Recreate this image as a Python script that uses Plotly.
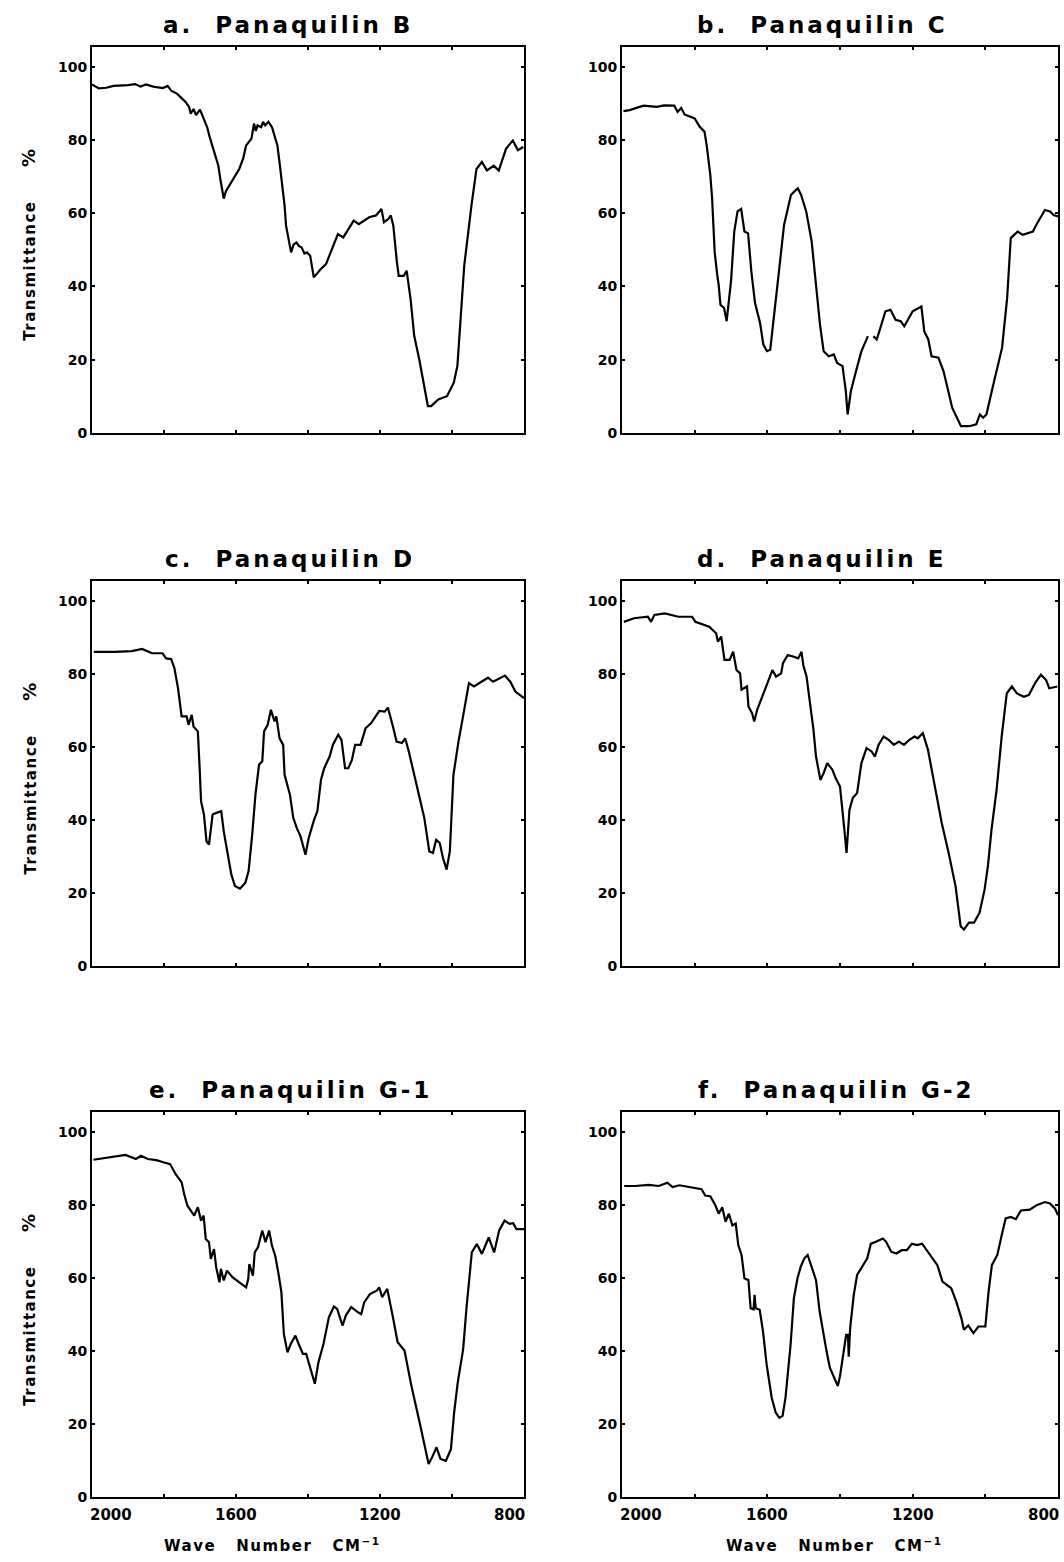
import plotly.graph_objects as go

# ---------------- data (wave number cm^-1, transmittance %) ----------------
wn_a = [2000, 1981, 1960, 1940, 1900, 1880, 1865, 1850, 1830, 1803, 1790, 1780, 1764, 1740, 1730, 1726,
        1718, 1711, 1700, 1687, 1680, 1673, 1665, 1658, 1649, 1643, 1639, 1634, 1628, 1625, 1610, 1591,
        1580, 1572, 1557, 1550, 1545, 1540, 1530, 1525, 1519, 1510, 1500, 1492, 1485, 1478, 1471, 1465,
        1461, 1455, 1450, 1447, 1440, 1432, 1425, 1418, 1410, 1403, 1394, 1390, 1384, 1375, 1365, 1350,
        1331, 1317, 1302, 1285, 1273, 1259, 1245, 1230, 1211, 1196, 1189, 1177, 1170, 1163, 1153, 1148,
        1134, 1126, 1115, 1105, 1091, 1067, 1058, 1038, 1014, 995, 985, 975, 966, 946, 932, 917, 903,
        884, 870, 850, 831, 817, 802]
t_a = [95.2, 94.1, 94.3, 94.8, 95.0, 95.3, 94.6, 95.2, 94.6, 94.2, 94.8, 93.5, 92.7, 90.4, 89.0, 87.2,
       88.5, 86.8, 88.3, 85.0, 83.5, 80.8, 78.0, 75.8, 73.0, 69.0, 66.7, 64.0, 66.0, 66.5, 69.0, 72.1,
       75.0, 78.5, 80.4, 84.5, 82.5, 84.0, 83.5, 85.0, 84.0, 85.0, 83.5, 81.0, 78.5, 73.0, 67.6, 62.0,
       56.6, 53.0, 50.0, 49.3, 51.5, 52.0, 51.0, 50.7, 49.0, 49.3, 48.4, 46.0, 42.5, 43.5, 44.7, 46.1,
       51.1, 54.3, 53.4, 56.0, 58.0, 57.0, 58.0, 58.9, 59.4, 61.2, 57.5, 58.4, 59.4, 56.6, 46.6, 42.9,
       42.9, 44.3, 36.5, 26.5, 20.1, 7.3, 7.3, 9.1, 10.0, 13.7, 18.3, 32.0, 45.7, 62.1, 72.1, 74.0, 71.7,
       73.0, 71.7, 77.6, 79.9, 77.2, 78.1]

wn_b = [1996, 1979, 1941, 1904, 1885, 1856, 1847, 1837, 1828, 1800, 1786, 1773, 1767, 1757, 1752, 1745,
        1738, 1734, 1729, 1719, 1712, 1700, 1691, 1682, 1672, 1663, 1653, 1644, 1634, 1620, 1611, 1601,
        1592, 1582, 1568, 1554, 1545, 1535, 1526, 1516, 1507, 1493, 1478, 1464, 1455, 1445, 1431, 1417,
        1408, 1393, 1384, 1379, 1370, 1356, 1341, 1323, None, 1308, 1299, 1289, 1275, 1261, 1247, 1233,
        1223, 1200, 1176, 1168, 1157, 1148, 1129, 1115, 1091, 1067, 1044, 1025, 1015, 1006, 997, 978,
        954, 940, 930, 911, 897, 869, 860, 836, 822, 812, 800]
t_b = [87.9, 88.2, 89.4, 89.1, 89.5, 89.4, 87.7, 88.8, 87.0, 85.9, 83.6, 82.3, 78.6, 70.5, 64.1, 49.5,
       43.2, 40.5, 35.0, 34.1, 30.5, 41.4, 55.0, 60.5, 61.2, 55.0, 54.5, 44.1, 35.5, 30.0, 24.1, 22.3,
       22.7, 32.3, 44.1, 56.8, 60.5, 65.0, 65.9, 66.8, 65.0, 60.5, 52.3, 38.6, 29.5, 22.3, 20.9, 21.4,
       19.1, 18.2, 11.4, 5.0, 11.4, 16.8, 22.3, 26.4, None, 26.4, 25.5, 28.6, 33.2, 33.6, 30.9, 30.5,
       29.1, 33.2, 34.5, 27.7, 25.5, 20.9, 20.5, 16.8, 6.8, 1.8, 1.8, 2.3, 5.0, 4.1, 5.0, 13.2,
       23.2, 36.8, 53.2, 55.0, 54.1, 55.0, 56.8, 60.9, 60.5, 59.5, 59.1]

wn_c = [1995, 1966, 1937, 1890, 1861, 1833, 1804, 1794, 1780, 1771, 1761, 1751, 1737, 1732, 1723, 1718,
        1706, 1701, 1697, 1689, 1682, 1675, 1665, 1656, 1641, 1634, 1622, 1613, 1603, 1589, 1574, 1565,
        1555, 1546, 1536, 1527, 1522, 1512, 1503, 1493, 1488, 1479, 1469, 1465, 1450, 1441, 1431, 1421,
        1407, 1398, 1383, 1374, 1364, 1355, 1340, 1331, 1316, 1307, 1297, 1288, 1278, 1269, 1254, 1240,
        1225, 1202, 1187, 1178, 1163, 1154, 1139, 1130, 1120, 1106, 1092, 1077, 1063, 1053, 1044, 1034,
        1025, 1015, 1006, 996, 982, 967, 953, 939, 924, 900, 886, 853, 838, 824, 800]
t_c = [86.1, 86.0, 86.1, 86.3, 86.9, 85.7, 85.7, 84.3, 84.1, 81.6, 76.1, 68.4, 68.4, 66.1, 68.8, 65.6,
       64.3, 54.2, 45.1, 41.5, 34.2, 33.3, 41.5, 41.9, 42.4, 36.9, 29.6, 25.1, 21.9, 21.2, 22.8, 26.0,
       36.0, 46.9, 55.2, 56.1, 64.3, 66.1, 70.2, 67.0, 68.4, 62.4, 60.6, 52.4, 46.9, 40.6, 37.8, 35.6,
       30.5, 35.1, 40.1, 42.4, 51.0, 54.2, 57.4, 60.6, 63.4, 62.0, 54.2, 54.2, 56.5, 60.6, 60.6, 65.2,
       66.5, 69.9, 69.7, 70.8, 65.2, 61.5, 61.1, 62.4, 58.8, 52.4, 46.9, 40.6, 31.4, 31.0, 34.6, 33.7,
       29.6, 26.4, 31.4, 52.4, 61.5, 69.7, 77.5, 76.6, 77.5, 79.0, 77.9, 79.6, 77.9, 75.2, 73.4]

wn_d = [1995, 1967, 1929, 1920, 1911, 1882, 1845, 1807, 1798, 1779, 1760, 1741, 1736, 1727, 1718, 1704,
        1694, 1685, 1675, 1671, 1656, 1652, 1642, 1636, 1628, 1614, 1600, 1586, 1576, 1562, 1557, 1544,
        1529, 1515, 1506, 1501, 1492, 1482, 1473, 1466, 1454, 1445, 1435, 1421, 1412, 1400, 1395, 1388,
        1382, 1374, 1365, 1353, 1341, 1327, 1313, 1304, 1294, 1280, 1266, 1252, 1238, 1224, 1209, 1195,
        1186, 1172, 1158, 1139, 1120, 1101, 1082, 1068, 1059, 1045, 1031, 1016, 1002, 993, 983, 969,
        955, 941, 927, 913, 894, 880, 861, 847, 833, 824, 802]
t_d = [94.3, 95.3, 95.7, 94.3, 96.2, 96.6, 95.7, 95.7, 94.3, 93.7, 93.0, 91.2, 88.9, 90.3, 83.9, 83.9,
       86.1, 81.1, 80.2, 75.7, 76.6, 71.1, 69.3, 67.0, 70.2, 73.8, 77.5, 81.1, 79.3, 80.2, 83.0, 85.2,
       84.8, 84.3, 86.1, 82.5, 79.3, 72.0, 64.7, 57.4, 51.0, 52.9, 55.6, 53.8, 51.5, 49.2, 44.7, 37.4,
       31.0, 42.8, 46.0, 47.4, 55.6, 59.7, 58.8, 57.4, 60.6, 62.9, 62.0, 60.6, 61.5, 60.6, 62.0, 62.9,
       62.4, 63.8, 59.3, 49.2, 39.2, 31.0, 21.9, 10.9, 10.0, 11.9, 11.9, 14.6, 21.0, 27.3, 37.4, 48.3,
       62.9, 74.7, 76.6, 74.7, 73.8, 74.3, 77.9, 79.8, 78.4, 76.1, 76.6]

wn_e = [1996, 1969, 1941, 1907, 1878, 1864, 1845, 1821, 1802, 1783, 1768, 1751, 1744, 1735, 1725, 1716,
        1706, 1697, 1690, 1684, 1675, 1670, 1661, 1655, 1646, 1642, 1634, 1625, 1610, 1591, 1572, 1566,
        1563, 1553, 1548, 1539, 1527, 1518, 1508, 1500, 1491, 1481, 1474, 1467, 1457, 1448, 1435, 1426,
        1414, 1405, 1393, 1381, 1371, 1357, 1342, 1328, 1319, 1304, 1295, 1280, 1261, 1252, 1244, 1228,
        1209, 1202, 1194, 1180, 1165, 1151, 1132, 1113, 1089, 1065, 1055, 1043, 1032, 1017, 1003, 994,
        984, 969, 960, 945, 931, 917, 898, 883, 869, 854, 840, 830, 821, 800]
t_e = [92.5, 92.9, 93.4, 93.8, 92.7, 93.6, 92.7, 92.4, 91.8, 91.3, 88.6, 86.3, 83.1, 79.9, 78.5, 77.2,
       79.5, 75.8, 77.2, 70.8, 69.9, 65.3, 68.0, 63.0, 58.9, 62.6, 59.4, 62.1, 60.3, 58.9, 57.5, 59.8,
       63.9, 60.7, 67.1, 68.5, 73.1, 69.9, 73.1, 68.9, 66.2, 60.7, 56.2, 44.7, 39.7, 42.0, 44.3, 42.0,
       39.3, 39.3, 35.2, 31.1, 37.0, 42.0, 49.3, 52.3, 51.6, 47.0, 49.8, 52.1, 50.7, 50.2, 53.4, 55.7,
       56.6, 57.5, 54.8, 57.1, 49.8, 42.5, 40.2, 30.6, 20.1, 9.1, 11.0, 13.7, 10.5, 10.0, 13.2, 23.3,
       31.5, 40.6, 51.6, 67.1, 69.4, 66.7, 71.2, 67.1, 73.1, 75.8, 74.9, 75.1, 73.5, 73.5]

wn_f = [1994, 1964, 1927, 1899, 1875, 1861, 1842, 1818, 1795, 1781, 1771, 1757, 1743, 1734, 1724, 1715,
        1706, 1696, 1687, 1680, 1671, 1663, 1652, 1646, 1638, 1635, 1632, 1621, 1612, 1602, 1588, 1577,
        1567, 1558, 1550, 1536, 1527, 1517, 1508, 1498, 1489, 1480, 1466, 1456, 1447, 1437, 1428, 1414,
        1406, 1400, 1391, 1383, 1378, 1376, 1372, 1362, 1353, 1339, 1325, 1315, 1301, 1282, 1273, 1259,
        1245, 1230, 1216, 1202, 1188, 1174, 1151, 1132, 1118, 1094, 1080, 1066, 1059, 1047, 1033, 1019,
        1000, 991, 982, 967, 953, 944, 930, 916, 902, 878, 859, 836, 822, 808, 800]
t_f = [85.3, 85.3, 85.6, 85.3, 86.2, 85.0, 85.5, 85.0, 84.7, 84.4, 82.7, 82.5, 80.0, 77.7, 79.5, 75.5,
       77.7, 74.5, 75.0, 69.1, 66.4, 60.0, 59.5, 51.8, 51.5, 55.5, 51.8, 51.4, 45.5, 36.4, 27.3, 23.2,
       21.8, 22.3, 27.3, 41.8, 54.5, 60.0, 63.2, 65.5, 66.4, 63.6, 59.5, 50.9, 45.5, 40.0, 35.5, 32.3,
       30.5, 33.2, 40.0, 44.5, 44.5, 38.5, 46.4, 55.5, 60.9, 63.2, 65.5, 69.5, 70.0, 70.9, 70.0, 67.3,
       66.8, 67.7, 67.7, 69.5, 69.1, 69.5, 66.4, 63.6, 59.1, 57.3, 53.6, 49.1, 45.9, 47.1, 45.0, 46.8,
       46.8, 56.4, 63.6, 66.4, 72.7, 76.4, 76.8, 76.2, 78.6, 78.8, 80.0, 80.9, 80.5, 79.1, 77.3]

titles = ["a.\u00a0\u00a0Panaquilin B", "b.\u00a0\u00a0Panaquilin C", "c.\u00a0\u00a0Panaquilin D",
          "d.\u00a0\u00a0Panaquilin E", "e.\u00a0\u00a0Panaquilin G-1", "f.\u00a0\u00a0Panaquilin G-2"]
y_ticks = [0, 20, 40, 60, 80, 100]
x_dot_ticks = [1800, 1600, 1400, 1200, 1000]
x_label_vals = [2000, 1600, 1200, 800]
x_label_text = ["2000", "1600", "1200", "800"]
y_title = "Transmittance\u00a0\u00a0\u00a0\u00a0\u00a0<span style=\"font-size:18px\">%</span>"
x_title = "Wave\u00a0\u00a0\u00a0Number\u00a0\u00a0\u00a0CM<sup>\u2212<b>1</b></sup>"

spectra = [(wn_a, t_a), (wn_b, t_b), (wn_c, t_c), (wn_d, t_d), (wn_e, t_e), (wn_f, t_f)]

# ---------------- layout geometry (pixels) ----------------
W, H = 1064, 1562
cols = [(92, 524), (622, 1058)]
rows = [(47, 435), (584, 971), (1118, 1505)]
title_cx = [288, 822, 290, 821, 290, 836]
FONT = "DejaVu Sans, Verdana, sans-serif"

fig = go.Figure()
annotations = []
layout = {}

for i, (wn, tt) in enumerate(spectra):
    r, c = divmod(i, 2)
    n = i + 1
    xs = "" if n == 1 else str(n)
    fig.add_trace(go.Scatter(x=wn, y=tt, mode="lines", xaxis="x" + xs, yaxis="y" + xs,
                             line=dict(color="black", width=2.2), connectgaps=False,
                             hoverinfo="skip", showlegend=False))
    x0, x1 = cols[c]
    ytop, ybot = rows[r]
    layout["xaxis" + xs] = dict(
        domain=[x0 / W, x1 / W], anchor="y" + xs, range=[2000, 800],
        showline=True, linecolor="black", linewidth=2, mirror="allticks",
        showgrid=False, zeroline=False, ticks="inside", ticklen=3, tickwidth=2,
        tickcolor="black", tickvals=x_dot_ticks, showticklabels=False)
    layout["yaxis" + xs] = dict(
        domain=[1 - ybot / H, 1 - ytop / H], anchor="x" + xs, range=[0, 105.5],
        showline=True, linecolor="black", linewidth=2, mirror="allticks",
        showgrid=False, zeroline=False, ticks="inside", ticklen=3, tickwidth=2,
        tickcolor="black", tickvals=y_ticks, ticktext=[str(v) for v in y_ticks],
        tickfont=dict(family=FONT, size=14, color="black", weight="bold"))

    # panel title
    annotations.append(dict(
        text='<span style="letter-spacing:3px">' + titles[i] + '</span>',
        xref="paper", yref="paper", x=title_cx[i] / W, y=1 - (ytop - 22) / H,
        xanchor="center", yanchor="middle", showarrow=False,
        font=dict(family=FONT, size=23, color="black", weight="bold")))

    # y-axis title on left column
    if c == 0:
        annotations.append(dict(
            text='<span style="letter-spacing:1.5px">' + y_title + '</span>',
            xref="paper", yref="paper", x=29 / W, y=1 - ((ytop + ybot) / 2 + 5) / H,
            xanchor="center", yanchor="middle", textangle=-90, showarrow=False,
            font=dict(family=FONT, size=15, color="black", weight="bold")))

    # x tick labels and title on bottom row
    if r == 2:
        for k, (v, s) in enumerate(zip(x_label_vals, x_label_text)):
            anchor = "left" if k == 0 else ("right" if k == len(x_label_vals) - 1 else "center")
            shift = -4 if k == 0 else (3 if k == len(x_label_vals) - 1 else 0)
            annotations.append(dict(
                text=s, xref="x" + xs, yref="paper", x=v, y=1 - (ybot + 18) / H,
                xanchor=anchor, yanchor="middle", xshift=shift, showarrow=False,
                font=dict(family=FONT, size=15, color="black", weight="bold")))
        cx = 272 if c == 0 else 834
        annotations.append(dict(
            text='<span style="letter-spacing:1.5px">' + x_title + '</span>',
            xref="paper", yref="paper", x=cx / W, y=1 - 1553 / H,
            xanchor="center", yanchor="middle", showarrow=False,
            font=dict(family=FONT, size=15, color="black", weight="bold")))

fig.update_layout(
    width=W, height=H, margin=dict(l=0, r=0, t=0, b=0),
    paper_bgcolor="white", plot_bgcolor="white", showlegend=False,
    annotations=annotations, **layout)

fig.write_html("out.html")
